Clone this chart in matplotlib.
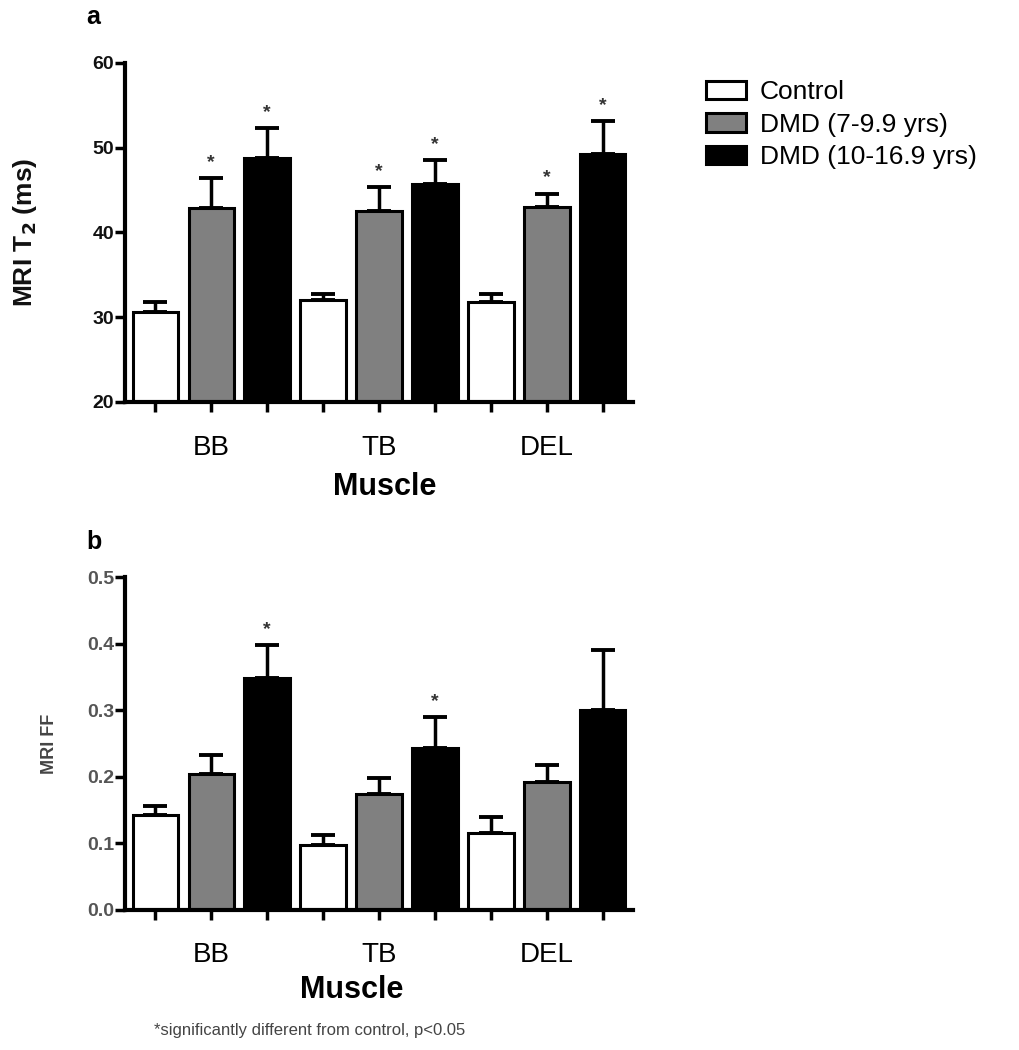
import matplotlib
matplotlib.use("Agg")
import matplotlib.pyplot as plt
from matplotlib.patches import Patch
import numpy as np

plt.rcParams['font.family'] = ['Liberation Sans', 'DejaVu Sans']

muscles = ['BB', 'TB', 'DEL']
groups = ['Control', 'DMD (7-9.9 yrs)', 'DMD (10-16.9 yrs)']
colors = ['white', '#808080', 'black']

t2_control = [30.6, 32.0, 31.8]
t2_control_sem = [1.2, 0.8, 1.0]
t2_dmd_young = [42.9, 42.5, 43.0]
t2_dmd_young_sem = [3.5, 2.9, 1.6]
t2_dmd_old = [48.8, 45.7, 49.3]
t2_dmd_old_sem = [3.5, 2.8, 3.8]
t2_sig = [[False, False, False], [True, True, True], [True, True, True]]

ff_control = [0.143, 0.098, 0.116]
ff_control_sem = [0.013, 0.015, 0.024]
ff_dmd_young = [0.204, 0.174, 0.192]
ff_dmd_young_sem = [0.029, 0.024, 0.026]
ff_dmd_old = [0.348, 0.243, 0.300]
ff_dmd_old_sem = [0.050, 0.047, 0.090]
ff_sig = [[False, False, False], [False, False, False], [True, True, False]]

W, H = 1019, 1050
fig = plt.figure(figsize=(W / 100, H / 100), dpi=100)


def panel(rect, means, sems, sig, ylim, yticks, fmt, tick_color, ylabel, ylabel_size, ylabel_color,
          letter, letter_xy, star_off):
    ax = fig.add_axes(rect)
    bw = 0.81
    for j, (m, s, c) in enumerate(zip(means, sems, colors)):
        x = np.arange(len(muscles)) * 3 + j
        ax.errorbar(x, m, yerr=[np.zeros(len(s)), s], fmt='none', ecolor='black',
                    elinewidth=2.5, capsize=8.5, capthick=2.8, zorder=1)
        ax.bar(x, m, width=bw, bottom=0, color=c, edgecolor='black', linewidth=2.2, zorder=2)
        for k in range(len(muscles)):
            if sig[j][k]:
                ax.annotate('*', (x[k], m[k] + s[k]), xytext=(0, star_off), textcoords='offset points',
                            ha='center', va='bottom', fontsize=14, fontweight='bold', color='#333333')
    ax.set_xlim(-0.54, 8.54)
    ax.set_ylim(*ylim)
    ax.set_yticks(yticks)
    ax.set_yticklabels([fmt.format(v) for v in yticks], fontsize=14, fontweight='bold', color=tick_color)
    ax.set_xticks(np.arange(9))
    ax.set_xticklabels([])
    for sp in ['top', 'right']:
        ax.spines[sp].set_visible(False)
    for sp in ['left', 'bottom']:
        ax.spines[sp].set_linewidth(3)
    ax.tick_params(axis='both', direction='out', length=7, width=2.5, pad=1)
    for i, mname in enumerate(muscles):
        ax.text(i * 3 + 1, -0.135, mname, transform=ax.get_xaxis_transform(),
                ha='center', va='center', fontsize=20)
    ax.set_ylabel(ylabel, fontsize=ylabel_size, fontweight='bold', color=ylabel_color)
    fig.text(letter_xy[0] / W, 1 - letter_xy[1] / H, letter, fontsize=18, fontweight='bold',
             ha='left', va='center')
    return ax


axa = panel([125 / W, 1 - 402 / H, 508 / W, 339 / H],
            [t2_control, t2_dmd_young, t2_dmd_old],
            [t2_control_sem, t2_dmd_young_sem, t2_dmd_old_sem], t2_sig,
            (20, 60), [20, 30, 40, 50, 60], '{:.0f}', '#111111',
            'MRI T$_\\mathbf{2}$ (ms)', 19, '#111111', 'a', (86, 17), 5)
axa.yaxis.set_label_coords(-0.17, 0.5)
fig.text(385 / W, 1 - 487 / H, 'Muscle', fontsize=22, fontweight='bold', ha='center', va='center')

axb = panel([125 / W, 1 - 910 / H, 508 / W, 333 / H],
            [ff_control, ff_dmd_young, ff_dmd_old],
            [ff_control_sem, ff_dmd_young_sem, ff_dmd_old_sem], ff_sig,
            (0, 0.5), [0.0, 0.1, 0.2, 0.3, 0.4, 0.5], '{:.1f}', '#555555',
            'MRI FF', 13, '#444444', 'b', (86, 542), 5)
axb.yaxis.set_label_coords(-0.132, 0.5)
fig.text(352 / W, 1 - 990 / H, 'Muscle', fontsize=22, fontweight='bold', ha='center', va='center')
fig.text(310 / W, 1 - 1030 / H, '*significantly different from control, p<0.05', fontsize=12,
         ha='center', va='center', color='#444444')

handles = [Patch(facecolor=c, edgecolor='black', linewidth=2.2) for c in colors]
fig.legend(handles, groups, loc='upper left', bbox_to_anchor=(706 / W, 1 - 80 / H), frameon=False,
           fontsize=19, handlelength=1.5, handleheight=0.68, labelspacing=0.33, handletextpad=0.55,
           borderaxespad=0, borderpad=0)

fig.savefig('out.png', dpi=100)
